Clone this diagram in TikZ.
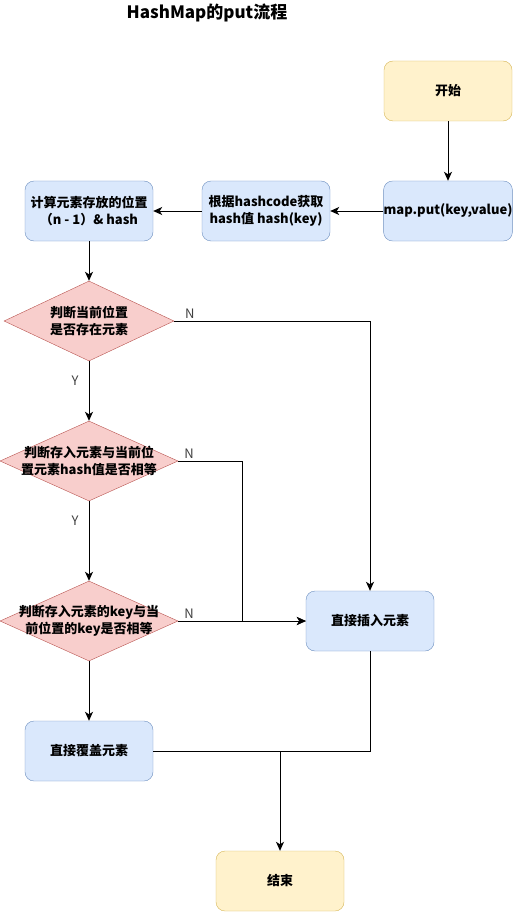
\documentclass[tikz,border=0pt]{standalone}
\usepackage{fontspec}
\setmainfont{Noto Sans CJK SC}
\usepackage{tikz}
\usetikzlibrary{shapes.geometric, arrows.meta}

\definecolor{blueFill}{HTML}{DAE8FC}
\definecolor{blueLine}{HTML}{6C8EBF}
\definecolor{yellowFill}{HTML}{FFF2CC}
\definecolor{yellowLine}{HTML}{D6B656}
\definecolor{redFill}{HTML}{F8CECC}
\definecolor{redLine}{HTML}{B85450}

\begin{document}
\begin{tikzpicture}[
        x=1pt, y=-1pt,
        box/.style={draw=blueLine, fill=blueFill, rectangle, rounded corners=9pt, minimum width=128pt, minimum height=60pt, align=center, inner sep=0pt, font=\fontsize{13}{17}\selectfont\bfseries},
        terminal/.style={draw=yellowLine, fill=yellowFill, rectangle, rounded corners=9pt, minimum width=128pt, minimum height=60pt, align=center, inner sep=0pt, font=\fontsize{13}{17}\selectfont\bfseries},
        decision/.style={draw=redLine, fill=redFill, diamond, minimum width=178pt, minimum height=80pt, inner sep=0pt},
        dtext/.style={align=center, inner sep=0pt, font=\fontsize{13}{17}\selectfont\bfseries},
        yn/.style={text=black!75, font=\fontsize{13}{15}\selectfont, inner sep=2pt},
        arrow/.style={-{Stealth[length=9pt, width=8pt, inset=2.5pt]}, line width=1pt},
        line/.style={line width=1pt}
    ]
    \useasboundingbox (0,0) rectangle (513,912);

    % Title
    \node[font=\fontsize{17}{19}\selectfont\bfseries] (title) at (207,13) {HashMap的put流程};

    % Nodes
    \node[terminal] (start) at (448,91) {开始};
    \node[box] (put) at (448,211) {map.put(key,value)};
    \node[box] (hashcode) at (266,211) {根据hashcode获取\\hash值 hash(key)};
    \node[box] (calc) at (89,211) {计算元素存放的位置\\（n - 1）\& hash};
    \node[decision, minimum width=170pt] (exist) at (89,321) {};
    \node[dtext] at (exist) {判断当前位置\\是否存在元素};
    \node[decision] (samehash) at (89,461) {};
    \node[dtext] at (samehash) {判断存入元素与当前位\\置元素hash值是否相等};
    \node[decision] (samekey) at (89,621) {};
    \node[dtext] at (samekey) {判断存入元素的key与当\\前位置的key是否相等};
    \node[box] (insert) at (370,621) {直接插入元素};
    \node[box] (cover) at (89,751) {直接覆盖元素};
    \node[terminal] (end) at (280,881) {结束};
    \coordinate (join) at (280,751);

    % Main flow arrows
    \draw[arrow] (start) -- (put);
    \draw[arrow] (put) -- (hashcode);
    \draw[arrow] (hashcode) -- (calc);
    \draw[arrow] (calc) -- (exist);
    \draw[arrow] (exist) -- node[yn, left, pos=0.33, xshift=-8pt] {Y} (samehash);
    \draw[arrow] (samehash) -- node[yn, left, pos=0.25, xshift=-8pt] {Y} (samekey);
    \draw[arrow] (samekey) -- (cover);

    % N branches to insert
    \draw[arrow] (exist.east) -| node[yn, above, pos=0.04] {N} (insert.north);
    \draw[arrow] (samehash.east) -- node[yn, above, pos=0.17] {N} ++(64,0) |- (insert.west);
    \draw[arrow] (samekey.east) -- node[yn, above, pos=0.086] {N} (insert.west);

    % Both ends meet before the end node
    \draw[line] (cover.east) -- (join);
    \draw[line] (insert.south) |- (join);
    \draw[arrow] (join) -- (end);
\end{tikzpicture}
\end{document}
